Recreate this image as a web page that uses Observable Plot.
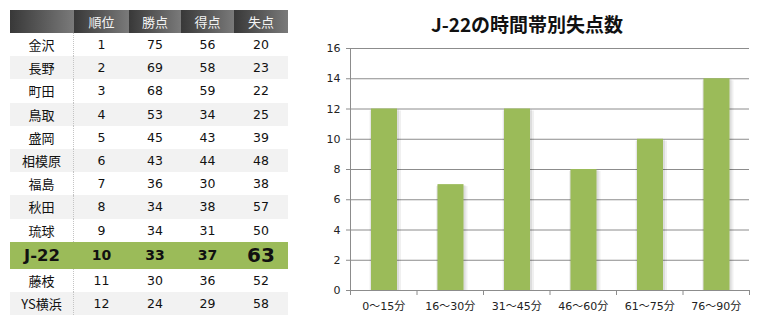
<!DOCTYPE html>
<html><head><meta charset="utf-8">
<script src="https://cdn.jsdelivr.net/npm/d3@7"></script>
<script src="https://cdn.jsdelivr.net/npm/@observablehq/plot@0.6"></script>
<style>
html,body{margin:0;padding:0;background:#fff;}
body{width:761px;height:322px;overflow:hidden;position:relative;font-family:"DejaVu Sans","Noto Sans CJK JP",sans-serif;color:#111;}
#tbl{position:absolute;left:10px;top:10px;width:278px;height:306px;}
.row{position:absolute;left:0;width:278px;display:flex;}
.cell{box-sizing:border-box;display:flex;align-items:center;justify-content:center;height:100%;white-space:nowrap;}
.hdr{background:linear-gradient(to right,#383838,#7a7a7a);color:#f4f4f4;font-family:"Noto Sans CJK JP",sans-serif;font-size:13px;}
#title{position:absolute;left:300px;width:454px;top:14px;text-align:center;font-family:"Noto Sans CJK JP",sans-serif;font-weight:bold;font-size:19px;line-height:19px;color:#111;}
#chart{position:absolute;left:300px;top:0;}
</style>
</head><body>
<div id="tbl"></div>
<div id="title">J-22の時間帯別失点数</div>
<div id="chart"></div>
<script>
const headers = ["", "順位", "勝点", "得点", "失点"];
const teams = ["金沢","長野","町田","鳥取","盛岡","相模原","福島","秋田","琉球","J-22","藤枝","YS横浜"];
const ranks = [1,2,3,4,5,6,7,8,9,10,11,12];
const points = [75,69,68,53,45,43,36,34,34,33,30,24];
const goalsFor = [56,58,59,34,43,44,30,38,31,37,36,29];
const goalsAgainst = [20,23,22,25,39,48,38,57,50,63,52,58];
const highlightTeam = "J-22";

const periods = ["0～15分","16～30分","31～45分","46～60分","61～75分","76～90分"];
const conceded = [12,7,12,8,10,14];
const yTicks = [0,2,4,6,8,10,12,14,16];

// ---- table ----
const colW = [64,55,52,53,54];
const tbl = d3.select("#tbl");
const hdr = tbl.append("div").attr("class","row").style("top","0px").style("height","23px")
  .style("box-shadow","inset 0 0 0 1px #4a4a4a");
headers.forEach((h,j)=>{
  hdr.append("div").attr("class","cell hdr").style("width",colW[j]+"px").text(h);
});
let rowTop = 23;
teams.forEach((t,i)=>{
  const hi = t === highlightTeam;
  const h = hi ? 27 : 23.2;
  const row = tbl.append("div").attr("class","row")
    .style("top", rowTop+"px").style("height", h+"px")
    .style("background", hi ? "#9BBB59" : (i % 2 ? "#f2f2f2" : "#ffffff"));
  const vals = [t, ranks[i], points[i], goalsFor[i], goalsAgainst[i]];
  vals.forEach((v,j)=>{
    const c = row.append("div").attr("class","cell").style("width",colW[j]+"px").text(v);
    if (j === 0) {
      c.style("font-family", '"Noto Sans CJK JP",sans-serif').style("font-size","13px");
      if (!hi) c.style("border-right","1px dotted #c4c4c4");
    } else {
      c.style("font-size","12.5px");
    }
    if (hi) {
      c.style("font-weight","bold").style("color","#111");
      if (j === 0) c.style("font-size","16.5px").style("font-family",'"DejaVu Sans",sans-serif');
      else if (j === 4) c.style("font-size","20px");
      else c.style("font-size","14px");
    }
  });
  rowTop += h;
});

// ---- chart ----
const data = periods.map((p,i)=>({p, v: conceded[i], i}));
const chart = Plot.plot({
  width: 461, height: 322,
  marginTop: 48, marginBottom: 32, marginLeft: 50, marginRight: 12,
  x: {domain: [0, periods.length], axis: null, label: null},
  y: {domain: [0, 16], axis: null, label: null},
  style: {fontFamily: '"DejaVu Sans","Noto Sans CJK JP",sans-serif', fontSize: "11px", color: "#222", background: "transparent"},
  marks: [
    Plot.ruleY(yTicks, {stroke: "#8c8c8c"}),
    Plot.ruleX([0], {stroke: "#8c8c8c"}),
    Plot.axisY({ticks: yTicks, tickSize: 4, tickPadding: 6, stroke: "#8c8c8c", strokeOpacity: 1, label: null}),
    Plot.axisX({ticks: d3.range(periods.length + 1), tickSize: 5, tickFormat: () => "", stroke: "#8c8c8c", strokeOpacity: 1, label: null}),
    Plot.axisX({ticks: periods.map((_, i) => i + 0.5), tickSize: 0, tickPadding: 12, tickFormat: v => periods[Math.floor(v)], label: null}),
    Plot.rectY(data, {x1: "i", x2: d => d.i + 1, y: "v", insetLeft: 19.5, insetRight: 15.5, insetTop: 2, fill: "#000", fillOpacity: 0.06}),
    Plot.rectY(data, {x1: "i", x2: d => d.i + 1, y: "v", insetLeft: 20.5, insetRight: 17.5, insetTop: 1, fill: "#000", fillOpacity: 0.08}),
    Plot.rectY(data, {x1: "i", x2: d => d.i + 1, y: "v", insetLeft: 21, insetRight: 19.5, fill: "#9BBB59"})
  ]
});
document.getElementById("chart").appendChild(chart);
</script>
</body></html>
